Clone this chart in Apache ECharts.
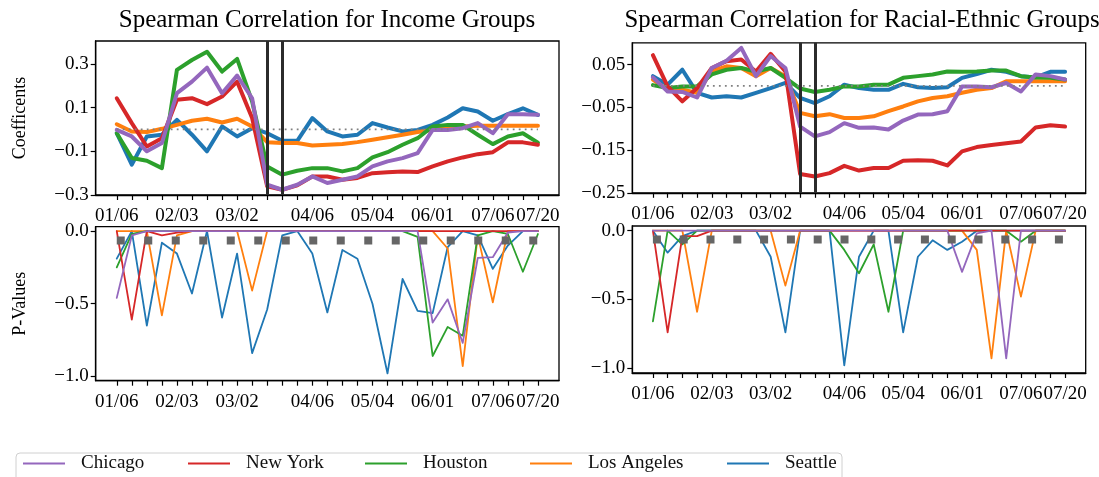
<!DOCTYPE html>
<html><head><meta charset="utf-8">
<script src="https://cdn.jsdelivr.net/npm/echarts@6/dist/echarts.min.js"></script>
<style>html,body{margin:0;padding:0;background:#fff}#c{width:1099px;height:477px}</style>
</head><body><div id="c"></div>
<script>
// ---------- DATA ----------
const nWeeks = 29;                         // weekly observations, index 0..28
const xTickPos    = [0, 4, 8, 13, 17, 21, 25, 28];
const xTickLabels = ['01/06','02/03','03/02','04/06','05/04','06/01','07/06','07/20'];
const eventPos = [10, 11];                 // the two vertical event lines
const cities = ['Chicago','New York','Houston','Los Angeles','Seattle'];

const incChicago    = [-0.002,-0.032,-0.100,-0.062,0.166,0.219,0.283,0.166,0.247,0.143,-0.253,-0.276,-0.253,-0.215,-0.245,-0.230,-0.215,-0.169,-0.146,-0.131,-0.108,-0.002,-0.002,0.006,0.029,-0.017,0.070,0.070,0.067];
const incNewYork    = [0.143,0.029,-0.078,-0.040,0.136,0.143,0.116,0.151,0.219,0.052,-0.260,-0.276,-0.256,-0.215,-0.215,-0.230,-0.222,-0.200,-0.196,-0.192,-0.195,-0.169,-0.146,-0.128,-0.113,-0.104,-0.059,-0.059,-0.070];
const incHouston    = [-0.017,-0.131,-0.143,-0.177,0.273,0.318,0.356,0.265,0.323,0.128,-0.169,-0.207,-0.189,-0.177,-0.177,-0.192,-0.177,-0.128,-0.104,-0.070,-0.040,0.014,0.021,0.021,-0.024,-0.067,-0.032,-0.017,-0.060];
const incLosAngeles = [0.024,-0.009,-0.012,0.003,0.021,0.040,0.049,0.032,0.049,0.014,-0.058,-0.062,-0.062,-0.073,-0.070,-0.067,-0.058,-0.047,-0.036,-0.024,-0.012,-0.002,0.009,0.014,0.017,0.017,0.017,0.017,0.017];
const incSeattle    = [-0.017,-0.161,-0.032,-0.024,0.044,-0.024,-0.100,0.014,-0.032,0.006,-0.017,-0.052,-0.052,0.052,-0.009,-0.032,-0.024,0.029,0.009,-0.009,-0.002,0.021,0.055,0.097,0.082,0.040,0.070,0.097,0.067];

const racChicago    = [0.020,-0.013,-0.014,-0.027,0.042,0.059,0.089,0.023,0.070,0.042,-0.095,-0.118,-0.108,-0.087,-0.098,-0.097,-0.102,-0.081,-0.067,-0.066,-0.059,-0.001,-0.001,-0.003,0.007,-0.013,0.027,0.023,0.015];
const racNewYork    = [0.072,-0.001,-0.036,-0.005,0.042,0.058,0.062,0.034,0.075,0.034,-0.206,-0.212,-0.204,-0.187,-0.198,-0.192,-0.192,-0.175,-0.174,-0.175,-0.186,-0.153,-0.143,-0.138,-0.134,-0.130,-0.097,-0.092,-0.095];
const racHouston    = [0.002,-0.005,-0.001,-0.001,0.027,0.038,0.042,0.034,0.042,0.019,-0.006,-0.014,-0.009,-0.001,-0.001,0.003,0.003,0.019,0.023,0.027,0.034,0.033,0.034,0.036,0.036,0.023,0.020,0.019,0.015];
const racLosAngeles = [0.015,-0.009,-0.009,-0.016,0.034,0.046,0.042,0.023,0.042,0.023,-0.063,-0.071,-0.066,-0.075,-0.075,-0.071,-0.059,-0.048,-0.036,-0.028,-0.024,-0.016,-0.009,-0.005,0.011,0.011,0.011,0.011,0.011];
const racSeattle    = [0.023,0.003,0.038,-0.016,-0.027,-0.024,-0.027,-0.016,-0.005,0.007,-0.028,-0.040,-0.024,0.003,-0.005,-0.009,-0.009,0.005,-0.003,-0.005,-0.003,0.019,0.028,0.038,0.033,0.023,0.020,0.033,0.033];

const pIncChicago    = [-0.46,-0.03,0,0,0,0,0,0,0,0,0,0,0,0,0,0,0,0,0,0,0,-0.63,-0.47,-0.77,-0.185,-0.18,-0.01,0,0];
const pIncNewYork    = [0,-0.61,0,-0.03,-0.01,0,0,0,0,0,0,0,0,0,0,0,0,0,0,0,0,0,0,0,0,0,0,0,0];
const pIncHouston    = [-0.25,-0.02,0,0,0,0,0,0,0,0,0,0,0,0,0,0,0,0,0,0,-0.04,-0.86,-0.66,-0.72,-0.03,0,-0.02,-0.28,-0.02];
const pIncLosAngeles = [0,0,0,-0.58,-0.03,0,0,0,0,-0.41,0,0,0,0,0,0,0,0,0,0,0,0,-0.12,-0.93,-0.03,-0.49,0,0,0];
const pIncSeattle    = [-0.19,0,-0.65,-0.08,-0.155,-0.43,0,-0.595,-0.155,-0.84,-0.54,-0.03,0,-0.155,-0.56,-0.13,-0.19,-0.50,-0.98,-0.33,-0.55,-0.565,-0.11,0,-0.03,-0.26,-0.10,0,0];

const pRacChicago    = [0,0,0,0,0,0,0,0,0,0,0,0,0,0,0,0,0,0,0,0,0,-0.30,-0.02,0,-0.93,0,0,0,0];
const pRacNewYork    = [0,-0.74,-0.04,-0.04,0,0,0,0,0,0,0,0,0,0,0,0,0,0,0,0,0,0,0,0,0,0,0,0,0];
const pRacHouston    = [-0.66,0,-0.10,0,0,0,0,0,0,0,0,0,0,-0.14,-0.31,-0.10,-0.59,0,0,0,0,0,0,0,0,-0.08,0,0,0];
const pRacLosAngeles = [0,0,0,-0.59,0,0,0,0,0,-0.40,0,0,0,0,0,0,0,0,0,0,0,0,-0.14,-0.93,0,-0.48,0,0,0];
const pRacSeattle    = [0,-0.16,-0.04,0,0,0,0,0,-0.19,-0.74,0,0,0,-0.98,-0.19,0,0,-0.74,-0.19,-0.07,-0.14,-0.08,0,0,0,0,0,0,0];

const pThreshold = -0.065;
const ticksIncome = [-0.3,-0.1,0.1,0.3];
const ticksRacial = [-0.25,-0.15,-0.05,0.05];
const ticksP = [-1.0,-0.5,0.0];

// ---------- STYLE / LAYOUT ----------
const FONT = 'Liberation Serif';
const colors = {'Chicago':'#9467bd','New York':'#d62728','Houston':'#2ca02c','Los Angeles':'#ff7f0e','Seattle':'#1f77b4'};
const drawOrder = ['Seattle','Los Angeles','Houston','New York','Chicago'];
const grids = [
  {left:95.7, top:41,   width:463.3, height:154},
  {left:632.3,top:42.8, width:453.4, height:150},
  {left:95.7, top:226.7,width:463.3, height:154},
  {left:632.3,top:226,  width:453.4, height:147}
];
const yRanges = [[-0.3,0.405],[-0.25,0.101],[-1.03,0.03],[-1.036,0.034]];
const yTicks = [ticksIncome, ticksRacial, ticksP, ticksP];
const yDec = [1,2,1,1];
const panelData = [
  {'Chicago':incChicago,'New York':incNewYork,'Houston':incHouston,'Los Angeles':incLosAngeles,'Seattle':incSeattle},
  {'Chicago':racChicago,'New York':racNewYork,'Houston':racHouston,'Los Angeles':racLosAngeles,'Seattle':racSeattle},
  {'Chicago':pIncChicago,'New York':pIncNewYork,'Houston':pIncHouston,'Los Angeles':pIncLosAngeles,'Seattle':pIncSeattle},
  {'Chicago':pRacChicago,'New York':pRacNewYork,'Houston':pRacHouston,'Los Angeles':pRacLosAngeles,'Seattle':pRacSeattle}
];
const fmtNum = (v,d)=> (v<0?'\u2212':'') + Math.abs(v).toFixed(d);
const allIdx = Array.from({length:nWeeks},(_,i)=>i);
const labelOf = v => { const j = xTickPos.indexOf(Math.round(v)); return j<0?'':xTickLabels[j]; };

const xAxes = grids.map((g,k)=>({
  type:'value', gridIndex:k, min:-1.4, max:nWeeks-1+1.4,
  splitLine:{show:false},
  axisLine:{show:true,onZero:false,lineStyle:{color:'#000',width:1.3}},
  axisTick:{show:true,length:5,inside:false,customValues:allIdx,lineStyle:{color:'#000',width:1.2}},
  axisLabel:{show:true,customValues:xTickPos,formatter:labelOf,
    fontFamily:FONT,fontSize:19,color:'#000',margin:12,hideOverlap:false}
}));
const yAxes = grids.map((g,k)=>({
  type:'value', gridIndex:k, min:yRanges[k][0], max:yRanges[k][1],
  splitLine:{show:false},
  axisLine:{show:true,onZero:false,lineStyle:{color:'#000',width:1.3}},
  axisTick:{show:true,length:5,customValues:yTicks[k],lineStyle:{color:'#000',width:1.2}},
  axisLabel:{show:true,customValues:yTicks[k],formatter:v=>fmtNum(v,yDec[k]),
    fontFamily:FONT,fontSize:19,color:'#000',margin:7},
  name: k===0?'Coefficents':(k===2?'P-Values':''),
  nameLocation:'middle', nameGap:66,
  nameTextStyle:{fontFamily:FONT,fontSize:18,color:'#000'}
}));

const series = [];
panelData.forEach((pd,k)=>{
  const top = k<2;
  drawOrder.forEach(city=>{
    series.push({
      type:'line', name:city, xAxisIndex:k, yAxisIndex:k,
      data: pd[city].map((v,i)=>[i,v]),
      color: colors[city],
      showSymbol:false, symbol:'none',
      lineStyle:{width: top?4:1.8, color:colors[city], cap:'round', join:'round'},
      z: 2, silent:true
    });
  });
  if(top){
    series.push({
      type:'line', name:'zero', xAxisIndex:k, yAxisIndex:k,
      data:[[0,0],[nWeeks-1,0]], symbol:'none',
      lineStyle:{color:'#808080',width:1.8,type:[1.8,4.2]},
      z:3, silent:true,
      markLine:{symbol:'none',silent:true,label:{show:false},
        lineStyle:{color:'#2b2b2b',width:3,type:'solid'},
        data: eventPos.map(p=>({xAxis:p}))}
    });
  } else {
    series.push({
      type:'line', name:'threshold', xAxisIndex:k, yAxisIndex:k,
      data:[[0,pThreshold],[nWeeks-1,pThreshold]], symbol:'none',
      lineStyle:{color:'#666666',width:8,type:k===2?[8,19.5]:[8,18.8],cap:'butt'},
      z:3, silent:true
    });
  }
});

const legendPos = [23,188,365,530,727];
const legends = cities.map((c,i)=>({
  data:[c], left:legendPos[i], top:454, padding:0, orient:'horizontal',
  icon:'rect', itemWidth:42, itemHeight:2, selectedMode:false,
  textStyle:{fontFamily:FONT,fontSize:19,color:'#111',padding:[0,0,0,11]}
}));

const option = {
  animation:false,
  backgroundColor:'#fff',
  title:[
    {text:'Spearman Correlation for Income Groups',left:322,top:3,textAlign:'center',
     textStyle:{fontFamily:FONT,fontSize:25,fontWeight:'normal',color:'#000'}},
    {text:'Spearman Correlation for Racial-Ethnic Groups',left:857,top:3,textAlign:'center',
     textStyle:{fontFamily:FONT,fontSize:24.8,fontWeight:'normal',color:'#000'}}
  ],
  grid: grids.map(g=>Object.assign({show:true,borderColor:'#000',borderWidth:1.3,backgroundColor:'transparent',containLabel:false},g)),
  xAxis:xAxes, yAxis:yAxes, series, legend:legends,
  graphic:[{type:'rect',z:0,shape:{x:16,y:453,width:826,height:40,r:4},
    style:{fill:'#fff',stroke:'#d0d0d0',lineWidth:1}}]
};
const chart = echarts.init(document.getElementById('c'),null,{renderer:'canvas'});
chart.setOption(option);
</script></body></html>
